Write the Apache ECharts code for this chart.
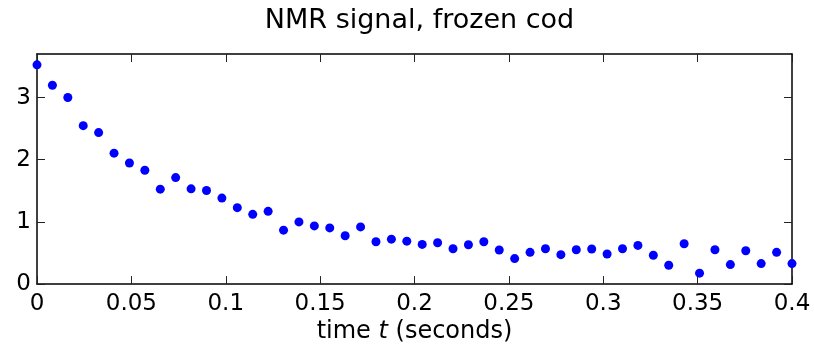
<!DOCTYPE html>
<html>
<head>
<meta charset="utf-8">
<script src="https://cdn.jsdelivr.net/npm/echarts@6/dist/echarts.min.js"></script>
<style>html,body{margin:0;padding:0;background:#fff}#c{width:814px;height:349px}</style>
</head>
<body>
<div id="c"></div>
<script>
var titleText = 'NMR signal, frozen cod';
var timeValues = [0, 0.00816, 0.01633, 0.02449, 0.03265, 0.04082, 0.04898, 0.05714, 0.06531, 0.07347,
  0.08163, 0.08980, 0.09796, 0.10612, 0.11429, 0.12245, 0.13061, 0.13878, 0.14694, 0.15510,
  0.16327, 0.17143, 0.17959, 0.18776, 0.19592, 0.20408, 0.21224, 0.22041, 0.22857, 0.23673,
  0.24490, 0.25306, 0.26122, 0.26939, 0.27755, 0.28571, 0.29388, 0.30204, 0.31020, 0.31837,
  0.32653, 0.33469, 0.34286, 0.35102, 0.35918, 0.36735, 0.37551, 0.38367, 0.39184, 0.4];
var signalValues = [3.526, 3.197, 3.000, 2.548, 2.436, 2.106, 1.947, 1.830, 1.527, 1.713,
  1.532, 1.505, 1.383, 1.229, 1.122, 1.170, 0.867, 1.000, 0.936, 0.904,
  0.777, 0.920, 0.681, 0.723, 0.691, 0.638, 0.665, 0.569, 0.633, 0.681,
  0.548, 0.410, 0.511, 0.569, 0.473, 0.553, 0.564, 0.484, 0.569, 0.622,
  0.463, 0.303, 0.649, 0.176, 0.553, 0.314, 0.537, 0.330, 0.511, 0.330];
var xTicks = [0, 0.05, 0.1, 0.15, 0.2, 0.25, 0.3, 0.35, 0.4];
var yTicks = [0, 1, 2, 3];

var FONT = 'DejaVu Sans, Liberation Sans, sans-serif';
var pts = timeValues.map(function (t, i) { return [t, signalValues[i]]; });
var chart = echarts.init(document.getElementById('c'), null, {renderer: 'canvas'});
var lineStyle = {color: '#000', width: 1.5};
var tickStyle = {color: '#222', width: 1};
chart.setOption({
  animation: false,
  backgroundColor: '#fff',
  title: {
    text: titleText, left: 414.5, textAlign: 'center', top: 2,
    textStyle: {fontFamily: FONT, fontSize: 27, fontWeight: 'normal', color: '#000'}
  },
  grid: {left: 37, right: 22, top: 54, bottom: 63, containLabel: false},
  xAxis: [{
    type: 'value', min: 0, max: 0.4, interval: 0.05, position: 'bottom',
    axisLine: {show: true, onZero: false, lineStyle: lineStyle},
    axisTick: {show: true, inside: true, length: 8, lineStyle: tickStyle},
    splitLine: {show: false},
    axisLabel: {color: '#000', fontFamily: FONT, fontSize: 23, margin: 8,
      customValues: xTicks, formatter: function (v) { return String(+v.toFixed(2)); }},
    name: '{n|time }{i|t}{n| (seconds)}', nameLocation: 'middle', nameGap: 33,
    nameTextStyle: {rich: {
      n: {fontFamily: FONT, fontSize: 24, color: '#000'},
      i: {fontFamily: FONT, fontSize: 24, color: '#000', fontStyle: 'italic'}
    }}
  }, {
    type: 'value', min: 0, max: 0.4, interval: 0.05, position: 'top',
    axisLine: {show: true, onZero: false, lineStyle: lineStyle},
    axisTick: {show: true, inside: true, length: 8, lineStyle: tickStyle},
    axisLabel: {show: false}, splitLine: {show: false}
  }],
  yAxis: [{
    type: 'value', min: 0, max: 3.7, position: 'left',
    axisLine: {show: true, onZero: false, lineStyle: lineStyle},
    axisTick: {show: true, inside: true, length: 8, customValues: yTicks, lineStyle: tickStyle},
    splitLine: {show: false},
    axisLabel: {color: '#000', fontFamily: FONT, fontSize: 23, margin: 6, customValues: yTicks}
  }, {
    type: 'value', min: 0, max: 3.7, position: 'right',
    axisLine: {show: true, onZero: false, lineStyle: lineStyle},
    axisTick: {show: true, inside: true, length: 8, customValues: yTicks, lineStyle: tickStyle},
    axisLabel: {show: false}, splitLine: {show: false}
  }],
  series: [{
    type: 'scatter', data: pts, symbol: 'circle', symbolSize: 9,
    itemStyle: {color: '#0000ff', opacity: 1}, xAxisIndex: 0, yAxisIndex: 0
  }]
});
</script>
</body>
</html>
